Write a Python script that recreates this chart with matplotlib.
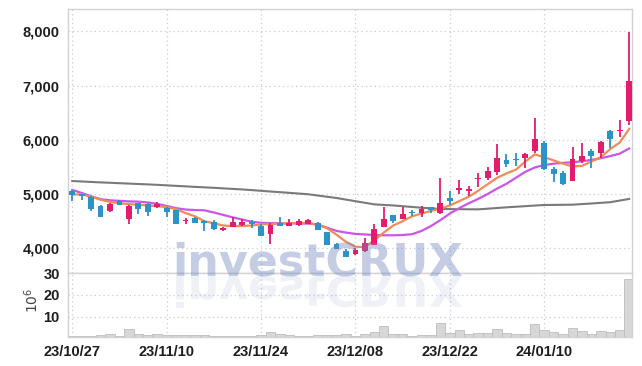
import numpy as np
import matplotlib
matplotlib.use("Agg")
import matplotlib.pyplot as plt
from matplotlib.textpath import TextPath
from matplotlib.patches import PathPatch
from matplotlib.font_manager import FontProperties
from matplotlib.transforms import Affine2D, IdentityTransform
from matplotlib.ticker import FuncFormatter

# daily candles, 23/10/27 .. 24/01/23 (trading days)
opens = [5056, 4995, 4951, 4780, 4684, 4877, 4534, 4829, 4816, 4767,
         4748, 4706, 4505, 4564, 4509, 4479, 4337, 4398, 4429, 4490,
         4411, 4258, 4461, 4417, 4429, 4448, 4472, 4295, 4079, 3956,
         3889, 3956, 4061, 4398, 4614, 4540, 4663, 4645, 4756, 4645,
         4922, 5080, 5062, 5272, 5301, 5412, 5622, 5651, 5659, 5799,
         5946, 5461, 5382, 5246, 5609, 5793, 5751, 6162, 6156, 6352]
highs = [5075, 5005, 4964, 4798, 4840, 4885, 4798, 4840, 4829, 4848,
         4761, 4711, 4553, 4577, 4527, 4522, 4393, 4571, 4534, 4522,
         4439, 4472, 4568, 4540, 4549, 4549, 4485, 4306, 4103, 3982,
         4000, 4184, 4442, 4767, 4623, 4767, 4706, 4780, 4767, 5290,
         5056, 5264, 5148, 5382, 5504, 5917, 5732, 5751, 5751, 6396,
         5977, 5504, 5430, 5873, 5935, 5825, 5975, 6175, 6365, 7990]
lows = [4872, 4890, 4693, 4577, 4669, 4798, 4448, 4627, 4601, 4737,
        4582, 4457, 4448, 4461, 4315, 4332, 4328, 4387, 4411, 4380,
        4227, 4074, 4411, 4405, 4420, 4439, 4337, 4055, 3982, 3834,
        3884, 3941, 4055, 4387, 4461, 4534, 4595, 4571, 4650, 4632,
        4798, 4995, 4969, 5135, 5259, 5351, 5504, 5517, 5474, 5751,
        5450, 5227, 5175, 5235, 5567, 5474, 5659, 5843, 6057, 6273]
closes = [4988, 4965, 4730, 4582, 4822, 4804, 4780, 4724, 4675, 4816,
          4669, 4457, 4525, 4466, 4472, 4350, 4374, 4490, 4490, 4442,
          4230, 4429, 4417, 4461, 4509, 4522, 4345, 4061, 3993, 3845,
          3969, 4103, 4356, 4534, 4509, 4632, 4651, 4724, 4706, 4829,
          4872, 5106, 5093, 5301, 5425, 5659, 5559, 5622, 5732, 6014,
          5456, 5375, 5185, 5646, 5701, 5707, 5965, 6009, 6186, 7084]
# volume, millions of shares
volumes = [1.3, 1.0, 1.2, 1.45, 1.9, 1.3, 4.2, 2.0, 1.45, 1.9,
           1.45, 1.45, 1.45, 1.45, 1.45, 1.0, 1.0, 1.0, 1.0, 1.2,
           1.75, 2.97, 2.2, 1.45, 1.0, 1.0, 1.45, 1.75, 1.6, 1.9,
           0.99, 2.05, 2.97, 6.0, 2.05, 1.9, 1.1, 1.45, 1.45, 7.08,
           2.66, 3.73, 2.05, 2.8, 2.5, 4.64, 2.5, 2.05, 2.05, 6.9,
           3.73, 2.97, 2.05, 5.1, 3.4, 2.05, 3.4, 2.97, 3.73, 27.5]
# moving averages as drawn (short / medium / long)
ma_short = [4990, 4995, 4950, 4895, 4855, 4830, 4815, 4800, 4790, 4775,
            4760, 4720, 4650, 4590, 4500, 4460, 4420, 4410, 4410, 4420,
            4440, 4450, 4455, 4460, 4465, 4470, 4430, 4370, 4250, 4120,
            4030, 4020, 4150, 4290, 4420, 4500, 4590, 4640, 4690, 4730,
            4790, 4870, 4950, 5060, 5180, 5300, 5380, 5450, 5600, 5730,
            5680, 5620, 5560, 5510, 5520, 5600, 5680, 5830, 5950, 6200]
ma_mid = [5075, 5020, 4960, 4905, 4885, 4875, 4865, 4860, 4845, 4820,
          4780, 4740, 4715, 4705, 4700, 4660, 4615, 4570, 4530, 4490,
          4470, 4465, 4462, 4460, 4458, 4455, 4440, 4380, 4320, 4290,
          4265, 4255, 4245, 4240, 4240, 4245, 4260, 4320, 4410, 4520,
          4640, 4740, 4830, 4910, 5000, 5100, 5190, 5300, 5410, 5490,
          5535, 5560, 5575, 5585, 5605, 5630, 5660, 5700, 5745, 5840]
ma_long = [5240, 5232, 5223, 5215, 5208, 5200, 5193, 5185, 5178, 5170,
           5160, 5151, 5142, 5132, 5124, 5115, 5105, 5095, 5085, 5073,
           5060, 5047, 5035, 5022, 5009, 4996, 4973, 4950, 4927, 4898,
           4868, 4839, 4810, 4800, 4790, 4776, 4762, 4748, 4737, 4725,
           4723, 4721, 4719, 4718, 4730, 4743, 4755, 4766, 4777, 4788,
           4798, 4800, 4802, 4804, 4815, 4826, 4838, 4850, 4880, 4910]
tick_idx = [0, 10, 20, 30, 40, 50]
tick_labels = ["23/10/27", "23/11/10", "23/11/24", "23/12/08", "23/12/22", "24/01/10"]
price_ticks = [4000, 5000, 6000, 7000, 8000]
vol_ticks = [10, 20, 30]

UP, DOWN = "#e31c6c", "#2b93c6"
GRID = "#c9cbdb"
SPINE = "#d2d2d2"
WM = "#7084bd"

fig = plt.figure(figsize=(6.42, 3.66), dpi=100)
L, W = 68 / 642, 564 / 642
ax = fig.add_axes([L, 1 - 272.5 / 366, W, 263.5 / 366])
axv = fig.add_axes([L, 1 - 337 / 366, W, 64.5 / 366], sharex=ax)

x = np.arange(len(opens))
o, h, l, c = map(np.asarray, (opens, highs, lows, closes))
up = c >= o
cols = np.where(up, UP, DOWN)

ax.plot(x, ma_long, color="#7a7a7a", lw=1.5, zorder=2)
ax.plot(x, ma_mid, color="#cc55e8", lw=1.6, zorder=2)
ax.plot(x, ma_short, color="#f08c58", lw=1.6, zorder=2)
ax.vlines(x, l, h, colors=cols, lw=1.3, zorder=3)
body = np.maximum(np.abs(c - o), 28)
ax.bar(x, body, bottom=np.minimum(o, c) - (body - np.abs(c - o)) / 2,
       width=0.62, color=cols, lw=0, zorder=4)

axv.bar(x, volumes, width=1.0, color="#d7d7d7", edgecolor="#bdbdbd", lw=0.6, zorder=2)

ax.set_xlim(-0.45, 59.3)
ax.set_ylim(3554, 8411)
axv.set_ylim(0.75, 30.3)
ax.set_yticks(price_ticks)
ax.yaxis.set_major_formatter(FuncFormatter(lambda v, _: f"{v:,.0f}"))
axv.set_yticks(vol_ticks)
axv.set_xticks(tick_idx)
axv.set_xticklabels(tick_labels)
ax.tick_params(labelbottom=False)

tick_font = FontProperties(family="Liberation Sans", weight="bold", size=10.5)
for a in (ax, axv):
    a.grid(True, ls=(0, (1, 2.5)), color=GRID, lw=0.9)
    a.set_axisbelow(True)
    a.tick_params(length=0, pad=6, colors="#1e1e1e")
    for s in a.spines.values():
        s.set_color(SPINE)
        s.set_linewidth(1.0)
    for t in a.get_yticklabels() + a.get_xticklabels():
        t.set_fontproperties(tick_font)
axv.tick_params(axis="x", pad=6)

fig.text(32 / 642, 1 - 300 / 366, r"$10^6$", rotation=90, ha="center", va="center",
         fontsize=10, color="#444444")

# watermark: real text, plus its mirror image drawn as a flipped path
wm_font = FontProperties(family="DejaVu Sans", weight="bold")
tp = TextPath((0, 0), "investCRUX", size=100, prop=wm_font)
ext = tp.get_extents()
k = 286 / ext.width                     # pixels per path unit
base = 366 - 275
x_left = 176 - ext.x0 * k
fig.text(x_left / 642, base / 366, "investCRUX",
         fontproperties=wm_font, fontsize=100 * k * 72 / 100,
         color=WM, alpha=0.4, ha="left", va="baseline", zorder=10)
wr = Affine2D().scale(k, -k * 0.95).translate(x_left, base - 1)
fig.patches.append(PathPatch(tp, transform=wr + IdentityTransform(), fc=WM,
                             ec="none", alpha=0.11, zorder=10))

fig.savefig("out.png", dpi=100)
